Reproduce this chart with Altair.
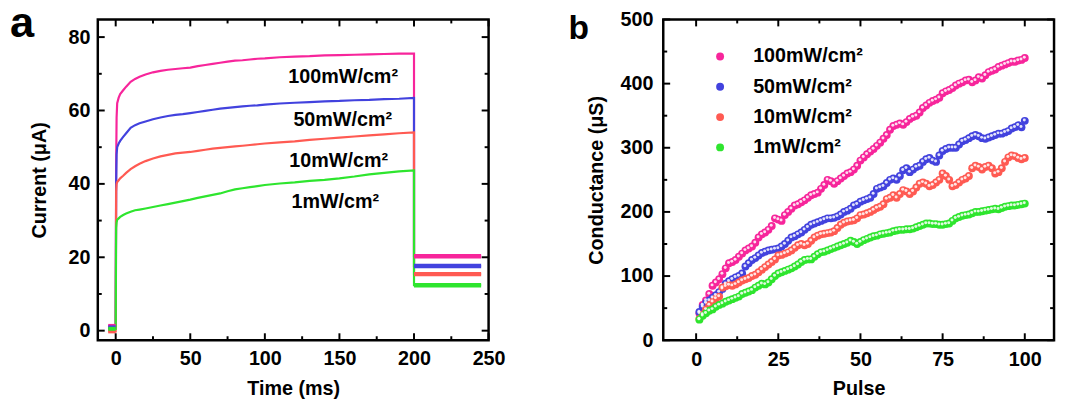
import altair as alt
import pandas as pd

FONT = "Liberation Sans"
SERIES = ["100mW/cm²", "50mW/cm²", "10mW/cm²", "1mW/cm²"]
COLORS = ["#f7259b", "#4242de", "#ff5a52", "#2ee52e"]

# ---------------- panel a : photocurrent vs time ----------------
T_PRE = [-5, 0]
T_ON = [0.3, 0.6, 1, 2, 3, 5, 7, 10, 13, 16, 20, 25, 30, 35, 40, 45, 50, 55, 60, 65,
        70, 75, 80, 85, 90, 95, 100, 110, 120, 130, 140, 150, 160, 170, 180, 190, 200]
T_POST = [200, 245]

PRE = [1.3, 0.9, -0.2, 0.5]
POST = [20.3, 17.6, 15.4, 12.4]
I_100 = [45, 58, 62, 63.5, 64.5, 65.5, 66.5, 67.8, 68.6, 69.2, 69.8, 70.4, 70.8, 71.1, 71.3,
         71.5, 71.7, 72.1, 72.4, 72.7, 73.0, 73.3, 73.6, 73.7, 73.9, 74.1, 74.2, 74.5, 74.7,
         74.8, 75.0, 75.1, 75.2, 75.3, 75.4, 75.5, 75.5]
I_50 = [40, 48, 50, 51, 51.7, 52.8, 53.8, 55.3, 56, 56.5, 57, 57.6, 58.1, 58.5, 58.8,
        59, 59.3, 59.6, 59.9, 60.2, 60.5, 60.7, 60.9, 61.1, 61.3, 61.4, 61.6, 61.9, 62.1,
        62.3, 62.5, 62.6, 62.8, 62.9, 63.1, 63.2, 63.4]
I_10 = [38, 40, 40.5, 41, 41.5, 42.2, 43, 44, 44.8, 45.5, 46.2, 46.9, 47.5, 47.9, 48.3,
        48.5, 48.7, 49, 49.3, 49.6, 49.8, 50, 50.2, 50.4, 50.6, 50.8, 51, 51.3, 51.6,
        52, 52.3, 52.6, 52.9, 53.2, 53.5, 53.8, 54]
I_1 = [28, 29.5, 30.2, 30.6, 31, 31.5, 31.9, 32.4, 32.8, 33, 33.3, 33.7, 34.1, 34.5, 34.9,
       35.3, 35.7, 36.2, 36.6, 37, 37.4, 38, 38.5, 38.8, 39.1, 39.4, 39.7, 40.1, 40.4,
       40.8, 41.1, 41.5, 42, 42.6, 43, 43.4, 43.7]
I_ON = [I_100, I_50, I_10, I_1]

ANNOT_T = [152.5, 152.2, 149.5, 147.2]
ANNOT_I = [67.4, 55.8, 44.5, 33.5]

# ---------------- panel b : conductance vs pulse ----------------
PULSE = list(range(1, 101))
G_100 = [42, 55, 62, 72, 85, 90, 95, 103, 112, 120, 122, 125, 130, 135, 140, 143, 146, 152, 160, 165,
         168, 172, 178, 190, 188, 186, 195, 200, 205, 210, 212, 215, 218, 222, 226, 228, 230, 236, 242, 250,
         248, 244, 248, 252, 256, 260, 262, 266, 272, 280, 285, 290, 294, 298, 303, 308, 314, 320, 328, 334,
         336, 338, 336, 340, 345, 348, 350, 355, 362, 366, 370, 373, 375, 378, 385, 388, 390, 393, 397, 400,
         402, 405, 406, 402, 405, 410, 408, 413, 418, 420, 422, 426, 428, 430, 432, 434, 434, 436, 437, 440]
G_50 = [44, 52, 58, 62, 66, 70, 75, 80, 88, 92, 95, 98, 100, 104, 115, 120, 125, 128, 132, 136,
        138, 140, 141, 142, 143, 146, 150, 155, 160, 162, 165, 168, 172, 176, 180, 182, 184, 186, 188, 190,
        190, 191, 193, 196, 200, 202, 205, 210, 212, 216, 218, 220, 222, 228, 236, 238, 240, 245, 250, 252,
        250, 256, 265, 268, 262, 266, 270, 272, 278, 282, 284, 280, 278, 288, 295, 298, 300, 300, 300, 305,
        310, 312, 315, 318, 320, 318, 315, 314, 316, 318, 320, 322, 322, 324, 326, 330, 332, 335, 332, 342]
G_10 = [33, 40, 48, 55, 60, 65, 68, 82, 84, 86, 85, 87, 90, 93, 95, 97, 100, 102, 106, 110,
        114, 118, 122, 126, 132, 133, 135, 137, 140, 144, 148, 150, 148, 150, 155, 160, 163, 165, 166, 167,
        168, 170, 175, 180, 183, 185, 186, 187, 190, 195, 196, 198, 200, 203, 206, 208, 212, 220, 222, 226,
        222, 228, 234, 232, 228, 232, 238, 244, 246, 244, 240, 242, 246, 250, 260, 256, 250, 240, 242, 246,
        250, 252, 256, 268, 272, 270, 266, 270, 272, 268, 260, 262, 268, 278, 285, 288, 287, 284, 282, 284]
G_1 = [32, 38, 42, 46, 48, 52, 55, 57, 60, 62, 64, 66, 68, 72, 74, 76, 78, 82, 85, 88,
       87, 90, 95, 100, 104, 106, 108, 110, 112, 115, 118, 122, 125, 126, 126, 130, 134, 137, 138, 140,
       142, 144, 146, 148, 150, 152, 155, 153, 150, 153, 156, 158, 160, 162, 163, 165, 166, 167, 168, 170,
       171, 172, 172, 173, 173, 174, 176, 178, 180, 182, 182, 181, 181, 180, 180, 181, 182, 186, 190, 192,
       194, 195, 196, 198, 200, 200, 201, 202, 203, 204, 205, 204, 206, 208, 209, 210, 210, 211, 212, 213]
G_ALL = [G_100, G_50, G_10, G_1]

# axis tick values
XA_MAJ = [0, 50, 100, 150, 200, 250]
XA_MIN = [25, 75, 125, 175, 225]
YA_MAJ = [0, 20, 40, 60, 80]
YA_MIN = [10, 30, 50, 70]
XB_MAJ = [0, 25, 50, 75, 100]
XB_MIN = [12.5, 37.5, 62.5, 87.5]
YB_MAJ = [0, 100, 200, 300, 400, 500]
YB_MIN = [50, 150, 250, 350, 450]

# ---------------- tables ----------------
rows, pre_rows, post_rows = [], [], []
for s, pre, on, post in zip(SERIES, PRE, I_ON, POST):
    seq = 0
    pts = list(zip(T_PRE, [pre, pre])) + list(zip(T_ON, on)) + list(zip(T_POST, [post, post]))
    for t, v in pts:
        rows.append({"series": s, "t": t, "i": v, "seq": seq})
        seq += 1
    for t in T_PRE:
        pre_rows.append({"series": s, "t": t, "i": pre})
    for t in T_POST:
        post_rows.append({"series": s, "t": t, "i": post})
df_a = pd.DataFrame(rows)
df_pre = pd.DataFrame(pre_rows)
df_post = pd.DataFrame(post_rows)
df_annot = pd.DataFrame({"label": SERIES, "t": ANNOT_T, "i": ANNOT_I})

df_b = pd.DataFrame([{"series": s, "pulse": p, "g": g}
                     for s, vals in zip(SERIES, G_ALL) for p, g in zip(PULSE, vals)])

MAJ, MIN = 7, 4


def frame_ticks(xscale, yscale, W, H, xmaj, xmin, ymaj, ymin):
    """Inward ticks on all four sides of the frame, placed by the scales."""
    out = []
    for vals, size in [(xmaj, MAJ), (xmin, MIN)]:
        d = pd.DataFrame({"v": vals})
        for y0, y1 in [(H, H - size), (0, size)]:
            out.append(alt.Chart(d).mark_rule(color="black", strokeWidth=2).encode(
                x=alt.X("v:Q", scale=xscale, axis=None), y=alt.value(y0), y2=alt.value(y1)))
    for vals, size in [(ymaj, MAJ), (ymin, MIN)]:
        d = pd.DataFrame({"v": vals})
        for x0, x1 in [(0, size), (W, W - size)]:
            out.append(alt.Chart(d).mark_rule(color="black", strokeWidth=2).encode(
                y=alt.Y("v:Q", scale=yscale, axis=None), x=alt.value(x0), x2=alt.value(x1)))
    return out


def main_axis(values, title, lpad, tpad):
    return alt.Axis(values=values, ticks=False, tickSize=0, domain=False, grid=False,
                    labelFlush=False, labelPadding=lpad, title=title, titlePadding=tpad,
                    format="d")


# ---- panel a ----
WA, HA = 396, 325
xs_a = alt.Scale(domain=[-12, 250], nice=False, zero=False)
ys_a = alt.Scale(domain=[-2.6, 84.8], nice=False, zero=False)
color_a = alt.Color("series:N", scale=alt.Scale(domain=SERIES, range=COLORS), legend=None)

main_a = alt.Chart(df_a).mark_line(strokeWidth=2.2).encode(
    x=alt.X("t:Q", scale=xs_a, axis=main_axis(XA_MAJ, "Time (ms)", 9, 10)),
    y=alt.Y("i:Q", scale=ys_a, axis=main_axis(YA_MAJ, "Current (μA)", 8, 19)),
    color=color_a, order="seq:Q")
pre_a = alt.Chart(df_pre).mark_line(strokeWidth=4).encode(
    x=alt.X("t:Q", scale=xs_a, axis=None), y=alt.Y("i:Q", scale=ys_a, axis=None), color=color_a)
post_a = alt.Chart(df_post).mark_line(strokeWidth=4.5).encode(
    x=alt.X("t:Q", scale=xs_a, axis=None), y=alt.Y("i:Q", scale=ys_a, axis=None), color=color_a)
annot_a = alt.Chart(df_annot).mark_text(font=FONT, fontSize=20, fontWeight="bold", color="black",
                                        align="center", baseline="alphabetic").encode(
    x=alt.X("t:Q", scale=xs_a, axis=None), y=alt.Y("i:Q", scale=ys_a, axis=None), text="label:N")
letter_a = alt.Chart(pd.DataFrame({"l": ["a"]})).mark_text(
    font=FONT, fontSize=44, fontWeight="bold", color="black", align="left", baseline="alphabetic"
).encode(x=alt.value(-89), y=alt.value(18), text="l:N")

panel_a = alt.layer(
    main_a, pre_a, post_a, annot_a, letter_a,
    *frame_ticks(xs_a, ys_a, WA, HA, XA_MAJ, XA_MIN, YA_MAJ, YA_MIN)
).resolve_axis(x="independent", y="independent").properties(width=WA, height=HA)

# ---- panel b ----
WB, HB = 396, 325
xs_b = alt.Scale(domain=[-10, 108.9], nice=False, zero=False)
ys_b = alt.Scale(domain=[0, 500], nice=False, zero=False)

pts_b = alt.Chart(df_b).mark_circle(size=64, opacity=1).encode(
    x=alt.X("pulse:Q", scale=xs_b, axis=main_axis(XB_MAJ, "Pulse", 10, 9)),
    y=alt.Y("g:Q", scale=ys_b, axis=main_axis(YB_MAJ, "Conductance (μS)", 10.5, 14)),
    color=alt.Color("series:N", scale=alt.Scale(domain=SERIES, range=COLORS),
                    legend=alt.Legend(orient="none", legendX=47.6, legendY=27.5, title=None,
                                      symbolType="circle", symbolSize=64, symbolStrokeWidth=0,
                                      labelFont=FONT, labelFontSize=20, labelFontWeight="bold",
                                      labelColor="black", labelOffset=23.5, rowPadding=10.7,
                                      padding=0)))
hi_b = alt.Chart(df_b).mark_circle(size=9, opacity=0.85, color="white", xOffset=-0.5, yOffset=-0.8).encode(
    x=alt.X("pulse:Q", scale=xs_b, axis=None), y=alt.Y("g:Q", scale=ys_b, axis=None))
letter_b = alt.Chart(pd.DataFrame({"l": ["b"]})).mark_text(
    font=FONT, fontSize=34, fontWeight="bold", color="black", align="left", baseline="alphabetic"
).encode(x=alt.value(-96), y=alt.value(20), text="l:N")

panel_b = alt.layer(
    pts_b, hi_b, letter_b,
    *frame_ticks(xs_b, ys_b, WB, HB, XB_MAJ, XB_MIN, YB_MAJ, YB_MIN)
).resolve_axis(x="independent", y="independent").properties(width=WB, height=HB)

chart = alt.hconcat(panel_a, panel_b, spacing=61).resolve_scale(color="independent").configure(
    padding={"left": 0, "top": -10, "right": 0, "bottom": 0}
).configure_view(stroke="black", strokeWidth=2.5).configure_axis(
    labelFont=FONT, labelFontSize=20, labelFontWeight="bold", labelColor="black",
    titleFont=FONT, titleFontSize=20, titleFontWeight="bold", titleColor="black")

chart.save("out.html", embed_options={"renderer": "svg", "actions": False})
